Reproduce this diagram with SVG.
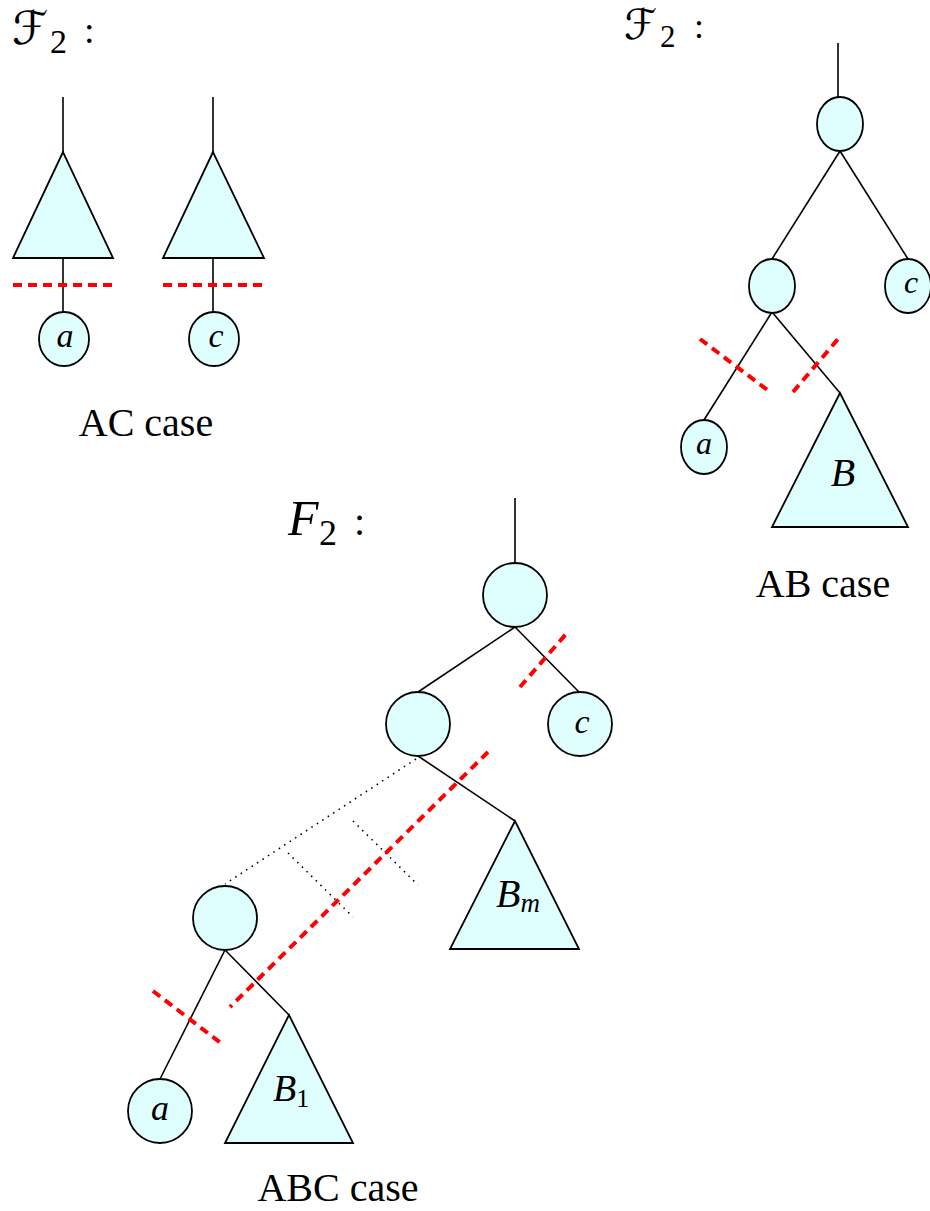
<svg xmlns="http://www.w3.org/2000/svg" width="930" height="1211" viewBox="0 0 930 1211">
<style>
.n{fill:#dfffff;stroke:#000;stroke-width:1.8}
.e{stroke:#000;stroke-width:1.6;fill:none}
.d{stroke:#000;stroke-width:1.6;stroke-dasharray:1.5 5;fill:none}
.r{stroke:#ff0000;stroke-width:4;stroke-dasharray:9 6;fill:none}
.m{font-style:italic;fill:#000}
.t{fill:#000}
.cal{fill:#000}
</style>
<rect width="930" height="1211" fill="#fff"/>
<!-- Titles -->
<g id="title-ac"><text class="cal" font-family="DejaVu Sans, sans-serif" x="12" y="44" font-size="46">ℱ</text><text class="t" font-family="Liberation Serif, serif" x="50" y="53" font-size="34">2</text><text class="t" font-family="Liberation Serif, serif" x="84" y="43" font-size="38">:</text></g>
<g id="title-ab"><text class="cal" font-family="DejaVu Sans, sans-serif" x="624" y="39" font-size="42">ℱ</text><text class="t" font-family="Liberation Serif, serif" x="660" y="47" font-size="31">2</text><text class="t" font-family="Liberation Serif, serif" x="694" y="38" font-size="36">:</text></g>
<g id="title-abc"><text class="m" font-family="Liberation Serif, serif" x="288" y="535" font-size="50">F</text><text class="t" font-family="Liberation Serif, serif" x="319" y="545" font-size="36">2</text><text class="t" font-family="Liberation Serif, serif" x="354" y="535" font-size="40">:</text></g>

<g id="connectors">
  <!-- AC -->
  <line class="e" x1="63" y1="97" x2="63" y2="152"/>
  <line class="e" x1="63" y1="258" x2="63" y2="312"/>
  <line class="e" x1="213" y1="97" x2="213" y2="152"/>
  <line class="e" x1="213" y1="258" x2="213" y2="312"/>
  <!-- AB -->
  <line class="e" x1="838" y1="43" x2="838" y2="97"/>
  <line class="e" x1="840" y1="151" x2="772" y2="259"/>
  <line class="e" x1="840" y1="151" x2="908" y2="259"/>
  <line class="e" x1="772" y1="312" x2="704" y2="420"/>
  <line class="e" x1="772" y1="312" x2="840" y2="393"/>
  <!-- ABC -->
  <line class="e" x1="515" y1="498" x2="515" y2="563"/>
  <line class="e" x1="515" y1="627" x2="418" y2="692"/>
  <line class="e" x1="515" y1="627" x2="579" y2="692"/>
  <line class="e" x1="418" y1="756" x2="515" y2="821"/>
  <line class="d" x1="416" y1="759" x2="225" y2="884"/>
  <line class="d" x1="288" y1="853" x2="353" y2="917"/>
  <line class="d" x1="353" y1="821" x2="418" y2="885"/>
  <line class="e" x1="225" y1="950" x2="160" y2="1079"/>
  <line class="e" x1="225" y1="950" x2="289" y2="1015"/>
</g>

<g id="cuts">
  <line class="r" x1="13" y1="285" x2="113" y2="285"/>
  <line class="r" x1="163" y1="285" x2="264" y2="285"/>
  <line class="r" x1="700" y1="339" x2="770" y2="392"/>
  <line class="r" x1="793" y1="392" x2="838" y2="339"/>
  <line class="r" x1="520" y1="687" x2="566" y2="634"/>
  <line class="r" x1="488" y1="752" x2="230" y2="1007"/>
  <line class="r" x1="153" y1="991" x2="222" y2="1044"/>
</g>

<!-- AC nodes -->
<g id="ac-tri1"><polygon class="n" points="63,152 13,258 113,258"/></g>
<g id="ac-a"><ellipse class="n" cx="64" cy="339" rx="25" ry="27"/><text class="m" font-family="Liberation Serif, serif" x="65" y="347" font-size="34" text-anchor="middle">a</text></g>
<g id="ac-tri2"><polygon class="n" points="213,152 163,258 264,258"/></g>
<g id="ac-c"><ellipse class="n" cx="214" cy="339" rx="25" ry="27"/><text class="m" font-family="Liberation Serif, serif" x="216" y="347" font-size="34" text-anchor="middle">c</text></g>
<g id="ac-label"><text class="t" font-family="Liberation Serif, serif" x="146" y="436" font-size="40" text-anchor="middle">AC case</text></g>

<!-- AB nodes -->
<g id="ab-root"><ellipse class="n" cx="840" cy="124" rx="23" ry="27"/></g>
<g id="ab-left"><ellipse class="n" cx="772" cy="286" rx="23" ry="27"/></g>
<g id="ab-c"><ellipse class="n" cx="908" cy="286" rx="23" ry="27"/><text class="m" font-family="Liberation Serif, serif" x="911" y="293" font-size="32" text-anchor="middle">c</text></g>
<g id="ab-a"><ellipse class="n" cx="704" cy="447" rx="23" ry="27"/><text class="m" font-family="Liberation Serif, serif" x="704" y="454" font-size="32" text-anchor="middle">a</text></g>
<g id="ab-B"><polygon class="n" points="840,393 772,527 908,527"/><text class="m" font-family="Liberation Serif, serif" x="843" y="486" font-size="40" text-anchor="middle">B</text></g>
<g id="ab-label"><text class="t" font-family="Liberation Serif, serif" x="823" y="597" font-size="40" text-anchor="middle">AB case</text></g>

<!-- ABC nodes -->
<g id="abc-root"><circle class="n" cx="515" cy="595" r="32"/></g>
<g id="abc-left"><circle class="n" cx="418" cy="724" r="32"/></g>
<g id="abc-c"><circle class="n" cx="580" cy="724" r="32"/><text class="m" font-family="Liberation Serif, serif" x="582" y="733" font-size="34" text-anchor="middle">c</text></g>
<g id="abc-Bm"><polygon class="n" points="515,821 450,949 579,949"/><text class="m" font-family="Liberation Serif, serif" x="496" y="907" font-size="40">B<tspan font-size="27" dy="5">m</tspan></text></g>
<g id="abc-low"><circle class="n" cx="225" cy="918" r="32"/></g>
<g id="abc-a"><circle class="n" cx="160" cy="1111" r="32"/><text class="m" font-family="Liberation Serif, serif" x="160" y="1120" font-size="36" text-anchor="middle">a</text></g>
<g id="abc-B1"><polygon class="n" points="289,1015 225,1143 353,1143"/><text class="m" font-family="Liberation Serif, serif" x="273" y="1101" font-size="38">B<tspan font-style="normal" font-size="26" dy="6">1</tspan></text></g>
<g id="abc-label"><text class="t" font-family="Liberation Serif, serif" x="338" y="1201" font-size="40" text-anchor="middle">ABC case</text></g>
</svg>
